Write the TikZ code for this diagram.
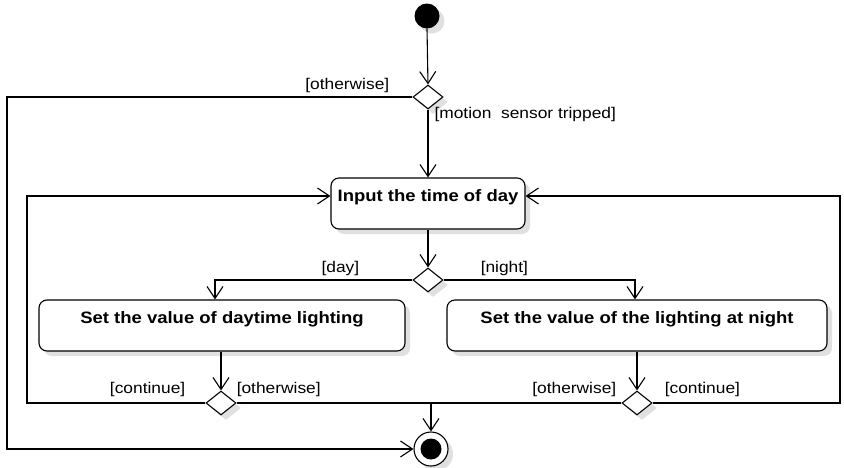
\documentclass[tikz,border=0pt]{standalone}
\usepackage{fontspec}
\setmainfont[FakeStretch=1.12]{Liberation Sans}
\usepackage{tikz}
\usetikzlibrary{shapes.geometric, arrows.meta, positioning, calc, shadows}

\begin{document}
\begin{tikzpicture}[
    x=1pt, y=-1pt,
    shade/.style={drop shadow={shadow xshift=5pt, shadow yshift=-5pt, fill=black!12, opacity=1}},
    action/.style={rectangle, rounded corners=8pt, draw=black, line width=1.1pt, fill=white, shade, inner xsep=4pt, inner ysep=8pt, text height=15pt, text depth=20pt, font=\fontsize{16.5}{19}\selectfont\bfseries},
    decision/.style={diamond, draw=black, line width=1.1pt, fill=white, shade, minimum width=30pt, minimum height=24pt, inner sep=0pt},
    initial/.style={circle, fill=black, shade, minimum size=25pt, inner sep=0pt},
    final/.style={circle, draw=black, line width=1.1pt, fill=white, shade, minimum size=34pt, inner sep=0pt, path picture={\fill[black] (path picture bounding box.center) circle (10.5pt);}},
    arrow/.style={-{Straight Barb[length=12pt, width=16pt, line width=1.1pt]}, line width=1.1pt},
    line/.style={line width=1.1pt},
    guard/.style={font=\fontsize{15.5}{18}\selectfont, inner sep=1pt}
]

\useasboundingbox (0,0) rectangle (844,467);

% Start and end
\node[initial] (start) at (427,16) {};
\node[final] (fin) at (431,449) {};

% Decisions
\node[decision] (check) at (428,97) {};
\node[decision] (daynight) at (428,280) {};
\node[decision] (dayloop) at (221,403) {};
\node[decision] (nightloop) at (637,403) {};

% Actions
\node[action, minimum width=194pt] (input) at (428,203.5) {Input the time of day};
\node[action, minimum width=366pt] (daylight) at (222,325.5) {Set the value of daytime lighting};
\node[action, minimum width=380pt] (nightlight) at (637,325.5) {Set the value of the lighting at night};

% Rails
\coordinate (outer) at (7,449);
\coordinate (leftrail) at (27,196);
\coordinate (rightrail) at (840,196);
\coordinate (join) at (fin.north |- dayloop.east);

% Motion sensor check
\draw[arrow] (start.south) -- (check.north);
\draw[arrow] (check.south) -- (input.north) node[guard, pos=0.07, right, xshift=5pt] {[motion~ sensor tripped]};
\draw[arrow] (check.west) -| (outer) -- (fin.west);
\node[guard, anchor=south east] (lblother) at ([xshift=-22pt, yshift=3pt]check.west) {[otherwise]};

% Day or night
\draw[arrow] (input.south) -- (daynight.north);
\draw[arrow] (daynight.west) -| ([xshift=-7pt]daylight.north);
\draw[arrow] (daynight.east) -| ([xshift=-2pt]nightlight.north);
\node[guard, anchor=south east] (lblday) at ([xshift=-52pt, yshift=3pt]daynight.west) {[day]};
\node[guard, anchor=south west] (lblnight) at ([xshift=36pt, yshift=3pt]daynight.east) {[night]};

% Loops back
\draw[arrow] (daylight.south -| dayloop) -- (dayloop.north);
\draw[arrow] (nightlight.south -| nightloop) -- (nightloop.north);
\draw[arrow] (dayloop.west) -| (leftrail) -- (leftrail -| input.west);
\draw[arrow] (nightloop.east) -| (rightrail) -- (rightrail -| input.east);
\draw[line] (dayloop.east) -- (nightloop.west);
\draw[arrow] (join) -- (fin.north);
\node[guard, anchor=south east] (lblcont1) at ([xshift=-19pt, yshift=5pt]dayloop.west) {[continue]};
\node[guard, anchor=south west] (lblother1) at ([xshift=-1pt, yshift=5pt]dayloop.east) {[otherwise]};
\node[guard, anchor=south east] (lblother2) at ([xshift=-4pt, yshift=5pt]nightloop.west) {[otherwise]};
\node[guard, anchor=south west] (lblcont2) at ([xshift=11pt, yshift=5pt]nightloop.east) {[continue]};

\end{tikzpicture}
\end{document}
